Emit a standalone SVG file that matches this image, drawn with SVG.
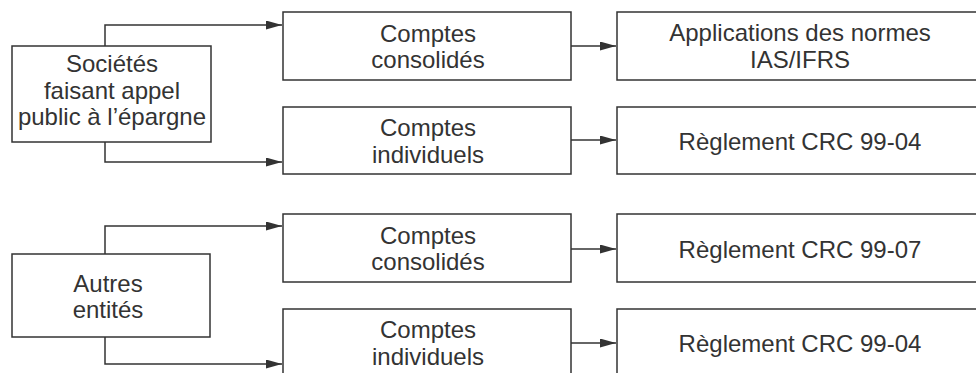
<svg xmlns="http://www.w3.org/2000/svg" width="976" height="373" viewBox="0 0 976 373">
<style>
.box{fill:#fff;stroke:#333;stroke-width:1.5}
.lbl{font-family:"Liberation Sans",Arial,sans-serif;font-size:24px;fill:#333;text-anchor:middle}
.conn{fill:none;stroke:#333;stroke-width:1.5}
</style>
<defs>
<marker id="arr" markerUnits="userSpaceOnUse" markerWidth="17" markerHeight="10" refX="16" refY="4.5" orient="auto">
<path d="M0,0 L16,4.5 L0,9 z" fill="#333"/>
</marker>
</defs>
<rect width="976" height="373" fill="#fff"/>
<g id="connectors">
<path class="conn" d="M105,46 V25 H282" marker-end="url(#arr)"/>
<path class="conn" d="M105,142 V162 H282" marker-end="url(#arr)"/>
<path class="conn" d="M105,254 V226 H282" marker-end="url(#arr)"/>
<path class="conn" d="M105,337 V364 H282" marker-end="url(#arr)"/>
<path class="conn" d="M571,46 H616" marker-end="url(#arr)"/>
<path class="conn" d="M571,140 H616" marker-end="url(#arr)"/>
<path class="conn" d="M571,249 H616" marker-end="url(#arr)"/>
<path class="conn" d="M571,343 H616" marker-end="url(#arr)"/>
</g>
<g id="societes">
<rect class="box" x="12" y="46" width="199" height="96"/>
<text class="lbl" x="112" y="72">Sociétés</text>
<text class="lbl" x="112" y="98.5">faisant appel</text>
<text class="lbl" x="112" y="125">public à l’épargne</text>
</g>
<g id="autres">
<rect class="box" x="12" y="254" width="198" height="83"/>
<text class="lbl" x="108" y="292">Autres</text>
<text class="lbl" x="108" y="318">entités</text>
</g>
<g id="comptes-consolides-1">
<rect class="box" x="283" y="12" width="288" height="68"/>
<text class="lbl" x="428" y="42">Comptes</text>
<text class="lbl" x="428" y="68">consolidés</text>
</g>
<g id="comptes-individuels-1">
<rect class="box" x="283" y="107" width="288" height="67"/>
<text class="lbl" x="428" y="136">Comptes</text>
<text class="lbl" x="428" y="163">individuels</text>
</g>
<g id="comptes-consolides-2">
<rect class="box" x="283" y="214" width="288" height="68"/>
<text class="lbl" x="428" y="243.5">Comptes</text>
<text class="lbl" x="428" y="269.5">consolidés</text>
</g>
<g id="comptes-individuels-2">
<rect class="box" x="283" y="309" width="288" height="70"/>
<text class="lbl" x="428" y="338">Comptes</text>
<text class="lbl" x="428" y="364.5">individuels</text>
</g>
<g id="ias-ifrs">
<rect class="box" x="617" y="12" width="370" height="68"/>
<text class="lbl" x="800" y="41">Applications des normes</text>
<text class="lbl" x="800" y="68">IAS/IFRS</text>
</g>
<g id="crc-99-04-a">
<rect class="box" x="617" y="107" width="370" height="67"/>
<text class="lbl" x="800" y="150">Règlement CRC 99-04</text>
</g>
<g id="crc-99-07">
<rect class="box" x="617" y="214" width="370" height="68"/>
<text class="lbl" x="800" y="258">Règlement CRC 99-07</text>
</g>
<g id="crc-99-04-b">
<rect class="box" x="617" y="309" width="370" height="70"/>
<text class="lbl" x="800" y="352">Règlement CRC 99-04</text>
</g>
</svg>
